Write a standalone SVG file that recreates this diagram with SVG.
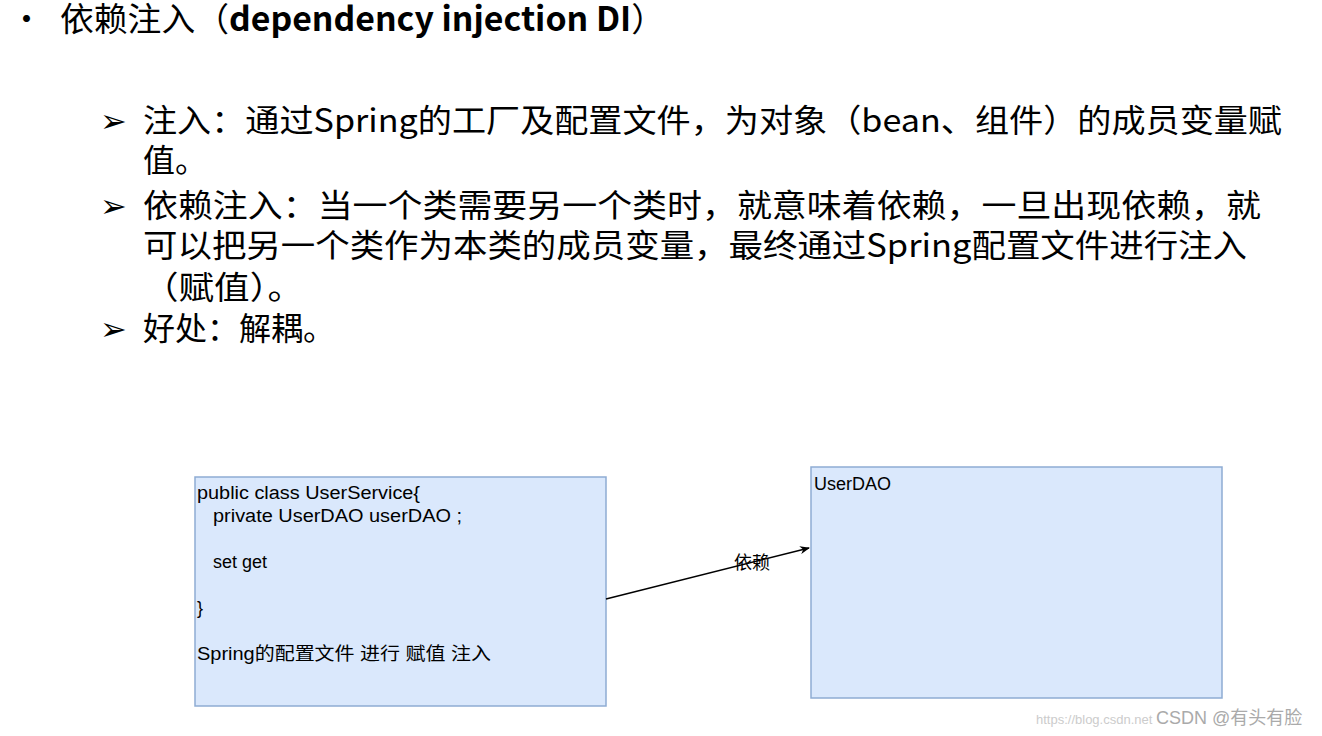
<svg xmlns="http://www.w3.org/2000/svg" width="1322" height="736" viewBox="0 0 1322 736">
<defs>
<style>
.h{font-family:"Noto Sans CJK SC","Noto Sans",sans-serif;font-size:33px;fill:#000}
.b{font-family:"Noto Sans CJK SC","Noto Sans",sans-serif;font-size:32px;fill:#000}
.s{font-family:"Liberation Sans","Noto Sans CJK SC",sans-serif;font-size:18px;fill:#000}
.box{fill:#dae8fc;stroke:#8eacd3;stroke-width:1.5}
</style>
<marker id="ar" markerWidth="10" markerHeight="8" refX="9" refY="4" orient="auto" markerUnits="userSpaceOnUse"><path d="M0,0L10,4L0,8L3,4Z" fill="#000"/></marker>
</defs>
<rect width="1322" height="736" fill="#fff"/>
<text x="10" y="31" class="h">•</text>
<text x="60" y="31" class="h" textLength="605" lengthAdjust="spacingAndGlyphs">依赖注入（<tspan font-weight="bold">dependency injection DI</tspan>）</text>
<g class="b">
<text x="100" y="132">➢</text>
<text x="143" y="132" textLength="1139" lengthAdjust="spacingAndGlyphs">注入：通过Spring的工厂及配置文件，为对象（bean、组件）的成员变量赋</text>
<text x="143" y="172">值。</text>
<text x="100" y="217">➢</text>
<text x="143" y="217" textLength="1118" lengthAdjust="spacingAndGlyphs">依赖注入：当一个类需要另一个类时，就意味着依赖，一旦出现依赖，就</text>
<text x="143" y="257" textLength="1104" lengthAdjust="spacingAndGlyphs">可以把另一个类作为本类的成员变量，最终通过Spring配置文件进行注入</text>
<text x="143" y="299" textLength="160" lengthAdjust="spacingAndGlyphs">（赋值）。</text>
<text x="100" y="340">➢</text>
<text x="143" y="340" textLength="192" lengthAdjust="spacingAndGlyphs">好处：解耦。</text>
</g>
<g id="userservice">
<rect class="box" x="195" y="477" width="411" height="229"/>
<text class="s" x="197" y="499" textLength="223" lengthAdjust="spacingAndGlyphs">public class UserService{</text>
<text class="s" x="213" y="522" textLength="249" lengthAdjust="spacingAndGlyphs">private UserDAO userDAO ;</text>
<text class="s" x="213" y="568">set get</text>
<text class="s" x="197" y="614">}</text>
<text class="s" x="197" y="660" textLength="294" lengthAdjust="spacingAndGlyphs">Spring的配置文件 进行 赋值  注入</text>
</g>
<g id="userdao">
<rect class="box" x="811" y="467" width="411" height="231"/>
<text class="s" x="814" y="490">UserDAO</text>
</g>
<g id="connectors">
<line x1="606" y1="599" x2="809" y2="548" stroke="#000" stroke-width="1.5" marker-end="url(#ar)"/>
<text class="s" x="734" y="569">依赖</text>
</g>
<text x="1036" y="724" font-family="Liberation Sans,sans-serif" font-size="13" fill="#ccc">https://blog.csdn.net</text>
<text x="1156" y="724" font-family="Liberation Sans,'Noto Sans CJK SC',sans-serif" font-size="18" fill="#aaa">CSDN @有头有脸</text>
</svg>
